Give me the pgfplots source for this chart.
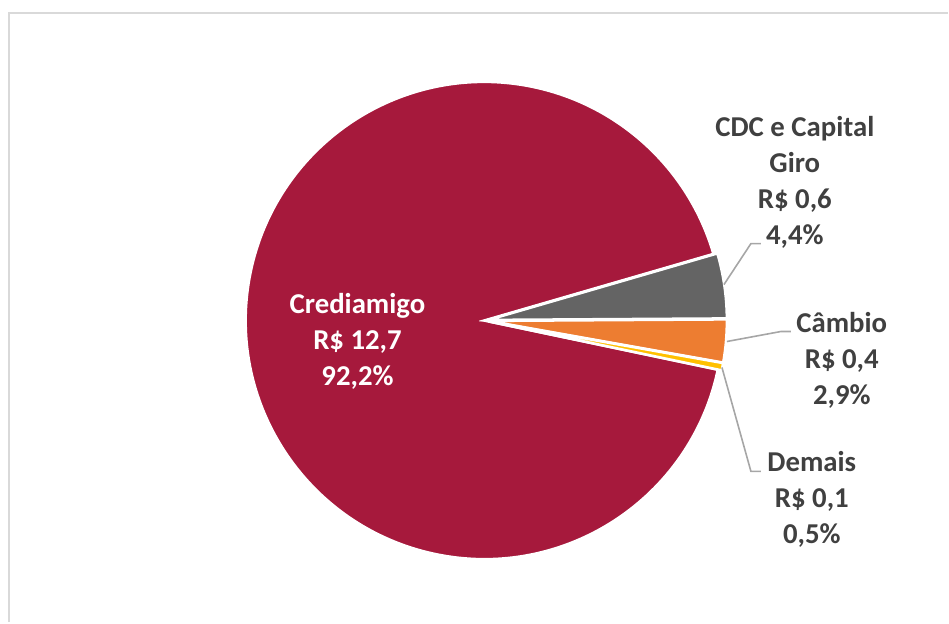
\documentclass[border=0pt]{standalone}
\usepackage{pgfplots}
\usepackage{pgfplotstable}
\pgfplotsset{compat=1.18}
\usepackage{fontspec}
\setmainfont{Carlito}

\definecolor{crediRed}{HTML}{A6193C}
\definecolor{cdcGray}{HTML}{646464}
\definecolor{cambioOrange}{HTML}{ED7D31}
\definecolor{demaisYellow}{HTML}{FFC000}
\definecolor{labelText}{HTML}{404040}
\definecolor{leader}{HTML}{A6A6A6}
\definecolor{frame}{HTML}{D9D9D9}

% share of each product (%), value in R$ bi
\pgfplotstableread{
label pct value
Crediamigo 92.2 12.7
CDC 4.4 0.6
Cambio 2.9 0.4
Demais 0.5 0.1
}\piedata

\begin{document}
\begin{tikzpicture}
% slice angles, clockwise from 16.2 deg (Excel style)
\def\cur{16.2}
\foreach \i/\n in {1/b,2/c,3/d,0/a}{
  \pgfplotstablegetelem{\i}{pct}\of\piedata
  \pgfmathsetmacro\endang{\cur-3.6*\pgfplotsretval}
  \pgfmathsetmacro\midang{(\cur+\endang)/2}
  \expandafter\xdef\csname sa\n\endcsname{\cur}
  \expandafter\xdef\csname ea\n\endcsname{\endang}
  \expandafter\xdef\csname ma\n\endcsname{\midang}
  \xdef\cur{\endang}
}
\begin{axis}[
    hide axis,
    x=0.5pt, y=0.5pt,
    xmin=0, xmax=949,
    ymin=0, ymax=623,
    y dir=reverse,
    clip=false,
]
    \path (axis cs:0,0) rectangle (axis cs:949,623);

    % frame (top and left edges only visible)
    \addplot[frame, line width=1.4pt, mark=none] coordinates {(9,623) (9,13) (949,13)};

    % slices
    \fill[crediRed, draw=white, line width=1.3pt] (axis cs:485,321) -- ++(\saa:119.5pt)
        arc[start angle=\saa, end angle=\eaa, radius=119.5pt] -- cycle;
    \fill[cdcGray, draw=white, line width=1.3pt] ([shift={(\mab:2pt)}]axis cs:485,321) -- ++(\sab:119.5pt)
        arc[start angle=\sab, end angle=\eab, radius=119.5pt] -- cycle;
    \fill[cambioOrange, draw=white, line width=1.3pt] ([shift={(\mac:2pt)}]axis cs:485,321) -- ++(\sac:119.5pt)
        arc[start angle=\sac, end angle=\eac, radius=119.5pt] -- cycle;
    \fill[demaisYellow, draw=white, line width=1.3pt] ([shift={(\mad:2pt)}]axis cs:485,321) -- ++(\sad:119.5pt)
        arc[start angle=\sad, end angle=\ead, radius=119.5pt] -- cycle;

    % leader lines
    \addplot[leader, line width=0.8pt, mark=none] coordinates {(725,285) (752,244) (762,244)};
    \addplot[leader, line width=0.8pt, mark=none] coordinates {(728,342) (782,332) (792,332)};
    \addplot[leader, line width=0.8pt, mark=none] coordinates {(723,368) (752,472) (762,472)};

    % data labels
    \tikzset{lbl/.style={align=center, font=\fontsize{14.4}{18}\selectfont\bfseries, inner sep=0pt}}
    \node[lbl, text=white] at (axis cs:358,342) {Crediamigo\\R\$ 12,7\\92,2\%};
    \node[lbl, text=labelText] at (axis cs:796,183) {CDC e Capital\\Giro\\R\$ 0,6\\4,4\%};
    \node[lbl, text=labelText] at (axis cs:843,361) {Câmbio\\R\$ 0,4\\2,9\%};
    \node[lbl, text=labelText] at (axis cs:813,500) {Demais\\R\$ 0,1\\0,5\%};
\end{axis}
\end{tikzpicture}
\end{document}
